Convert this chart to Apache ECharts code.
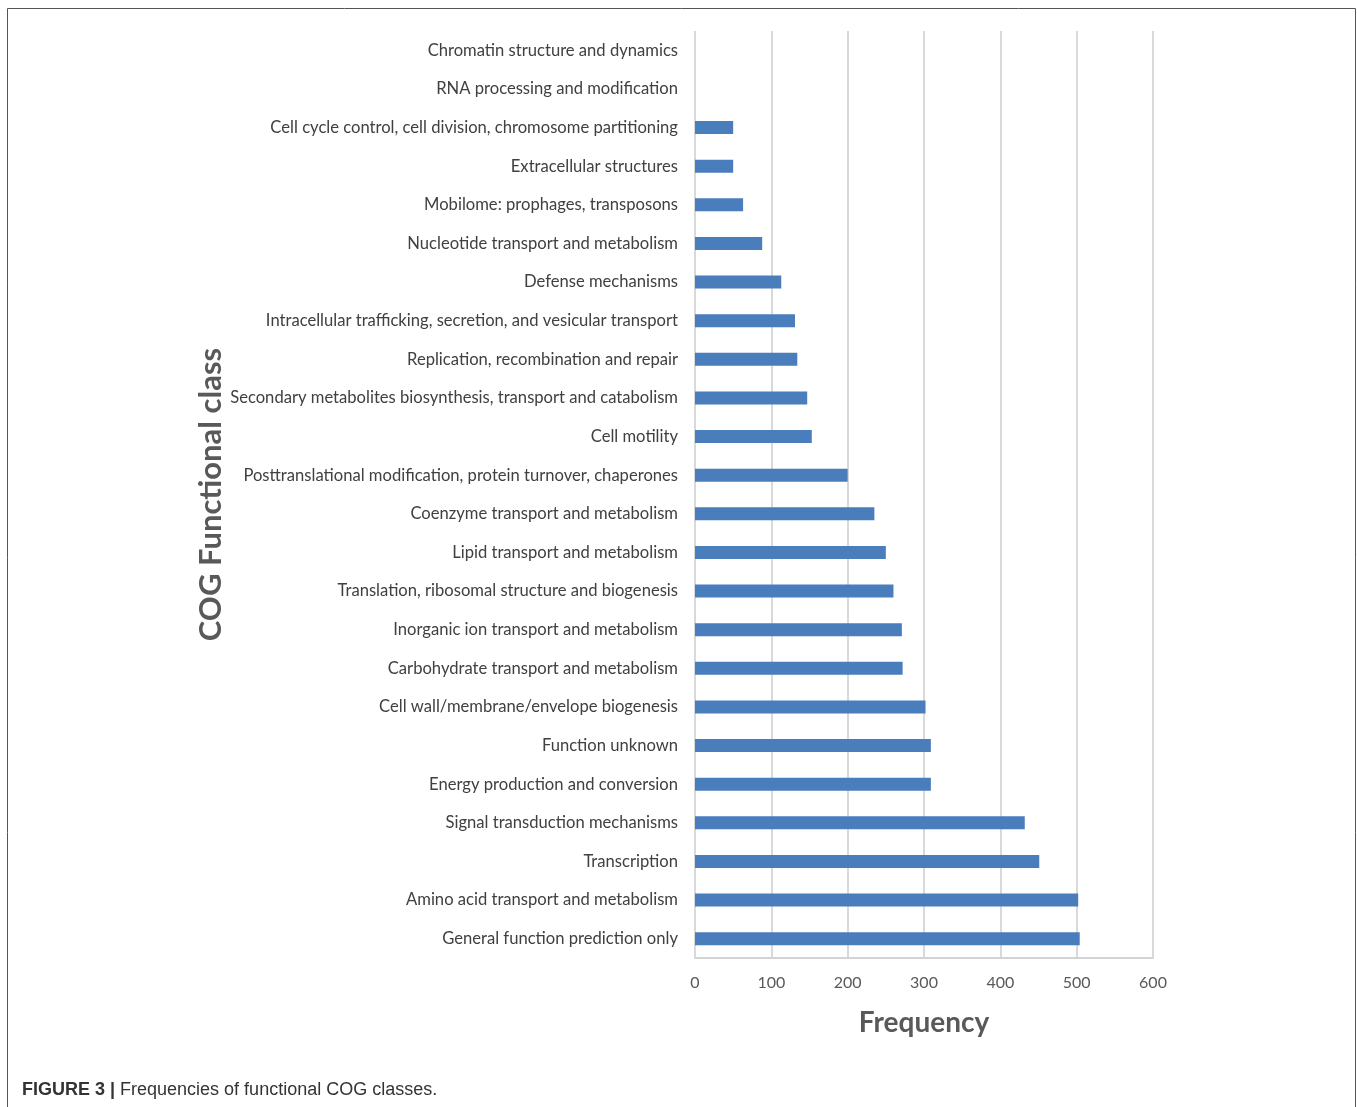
<!DOCTYPE html>
<html><head><meta charset="utf-8">
<script src="https://cdn.jsdelivr.net/npm/echarts@6/dist/echarts.min.js"></script>
<style>html,body{margin:0;padding:0;background:#fff}#c{width:1357px;height:1107px}</style>
</head><body><div id="c"></div>
<script>
const categories = [
  "General function prediction only",
  "Amino acid transport and metabolism",
  "Transcription",
  "Signal transduction mechanisms",
  "Energy production and conversion",
  "Function unknown",
  "Cell wall/membrane/envelope biogenesis",
  "Carbohydrate transport and metabolism",
  "Inorganic ion transport and metabolism",
  "Translation, ribosomal structure and biogenesis",
  "Lipid transport and metabolism",
  "Coenzyme transport and metabolism",
  "Posttranslational modification, protein turnover, chaperones",
  "Cell motility",
  "Secondary metabolites biosynthesis, transport and catabolism",
  "Replication, recombination and repair",
  "Intracellular trafficking, secretion, and vesicular transport",
  "Defense mechanisms",
  "Nucleotide transport and metabolism",
  "Mobilome: prophages, transposons",
  "Extracellular structures",
  "Cell cycle control, cell division, chromosome partitioning",
  "RNA processing and modification",
  "Chromatin structure and dynamics"
];
const frequencies = [504, 502, 451, 432, 309, 309, 302, 272, 271, 260, 250, 235, 200, 153, 147, 134, 131, 113, 88, 63, 50, 50, 0, 0];
const xTicks = [0, 100, 200, 300, 400, 500, 600];

const chart = echarts.init(document.getElementById('c'), null, {renderer: 'canvas'});
chart.setOption({
  animation: false,
  backgroundColor: '#fff',
  grid: {left: 695, right: 1357 - 1153, top: 31, bottom: 1107 - 958, containLabel: false},
  xAxis: {
    type: 'value', min: xTicks[0], max: xTicks[xTicks.length - 1], interval: 100,
    axisLine: {show: true, lineStyle: {color: '#d4d4d4', width: 2}},
    axisTick: {show: false},
    splitLine: {show: true, lineStyle: {color: '#d9d9d9', width: 2}},
    axisLabel: {color: '#595959', fontFamily: 'Lato', fontSize: 16, margin: 17},
    name: 'Frequency', nameLocation: 'middle', nameGap: 51,
    nameTextStyle: {fontFamily: 'Lato', fontWeight: 'bold', fontSize: 28, color: '#595959'}
  },
  yAxis: {
    type: 'category', data: categories,
    axisLine: {show: false}, axisTick: {show: false},
    axisLabel: {color: '#404040', fontFamily: 'Lato', fontSize: 16.6, margin: 17},
    name: 'COG Functional class', nameLocation: 'middle', nameGap: 468,
    nameTextStyle: {fontFamily: 'Lato', fontWeight: 'bold', fontSize: 31, color: '#595959'}
  },
  series: [{
    type: 'bar', data: frequencies, barWidth: 13,
    itemStyle: {color: '#4a7dbb', borderWidth: 0}
  }],
  graphic: [
    {type: 'polyline', shape: {points: [[7.5, 1107], [7.5, 8.5], [1355.5, 8.5], [1355.5, 1107]]},
     style: {stroke: '#555', lineWidth: 1, fill: null}, silent: true},
    {type: 'text', left: 22, top: 1081,
     style: {text: '{b|FIGURE 3 |} Frequencies of functional COG classes.',
       fontFamily: 'Liberation Sans', fontSize: 18, fill: '#333',
       rich: {b: {fontFamily: 'Liberation Sans', fontWeight: 'bold', fontSize: 18, fill: '#333'}}}}
  ]
});
</script></body></html>
